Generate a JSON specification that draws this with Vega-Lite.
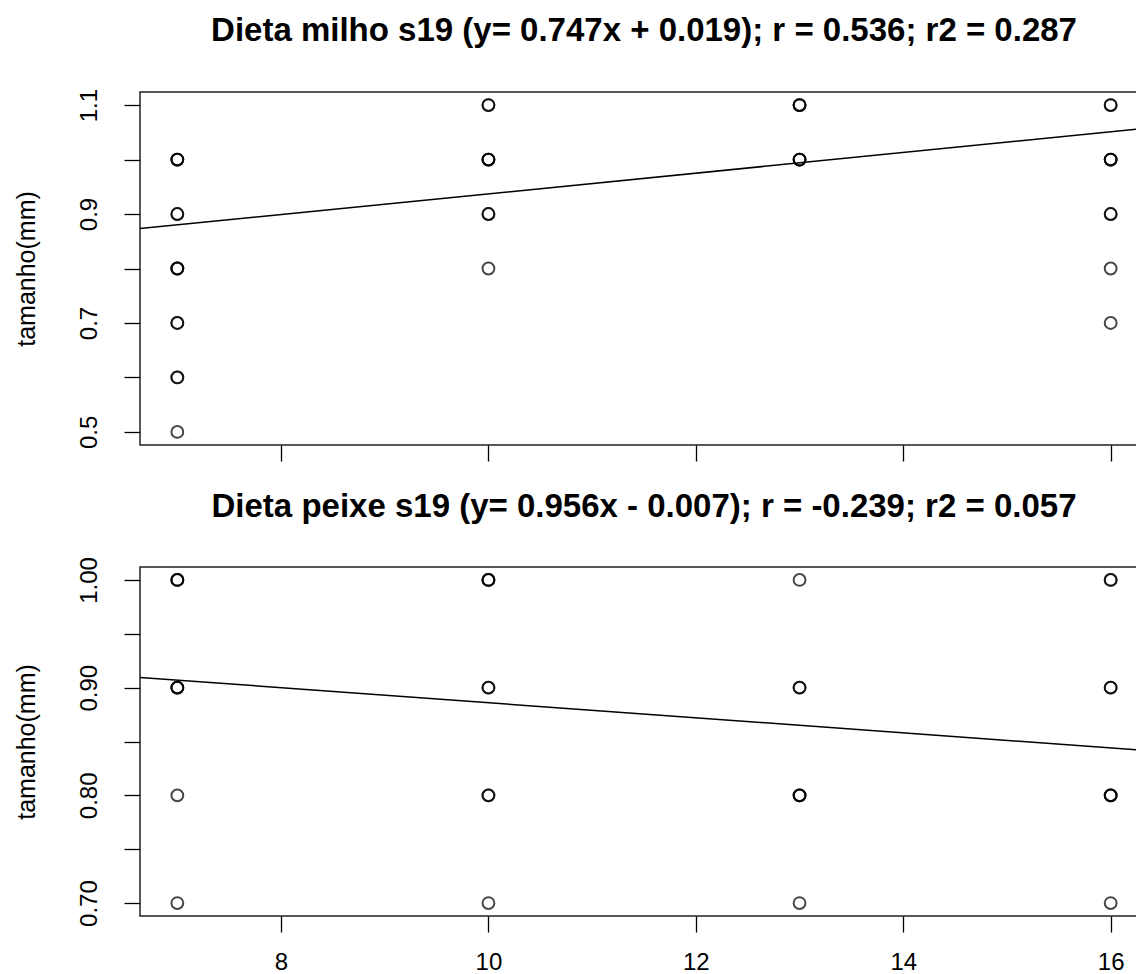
{
  "$schema": "https://vega.github.io/schema/vega-lite/v6.json",
  "background": "white",
  "padding": {"left": 13, "top": 14, "right": 0, "bottom": 0},
  "spacing": 26,
  "config": {
    "font": "Liberation Sans",
    "view": {"stroke": "#222", "strokeWidth": 1.5},
    "title": {"fontSize": 33, "fontWeight": "bold", "color": "#000", "frame": "group", "anchor": "middle", "offset": 40},
    "axis": {"grid": false, "domain": false, "tickColor": "#000", "tickWidth": 1.3, "tickSize": 16, "labelFontSize": 24, "labelColor": "#000", "titleFontSize": 25, "titleFontWeight": "normal", "titleColor": "#000", "labelOverlap": false, "labelFlush": false, "labelBound": false}
  },
  "datasets": {
    "milho": [
      {"x": 7, "y": 1.0}, {"x": 7, "y": 1.0}, {"x": 7, "y": 1.0},
      {"x": 7, "y": 0.9}, {"x": 7, "y": 0.9},
      {"x": 7, "y": 0.8}, {"x": 7, "y": 0.8}, {"x": 7, "y": 0.8},
      {"x": 7, "y": 0.7}, {"x": 7, "y": 0.7},
      {"x": 7, "y": 0.6}, {"x": 7, "y": 0.6},
      {"x": 7, "y": 0.5},
      {"x": 10, "y": 1.1}, {"x": 10, "y": 1.1},
      {"x": 10, "y": 1.0}, {"x": 10, "y": 1.0}, {"x": 10, "y": 1.0},
      {"x": 10, "y": 0.9}, {"x": 10, "y": 0.9},
      {"x": 10, "y": 0.8},
      {"x": 13, "y": 1.1}, {"x": 13, "y": 1.1}, {"x": 13, "y": 1.1},
      {"x": 13, "y": 1.0}, {"x": 13, "y": 1.0}, {"x": 13, "y": 1.0},
      {"x": 16, "y": 1.1}, {"x": 16, "y": 1.1},
      {"x": 16, "y": 1.0}, {"x": 16, "y": 1.0}, {"x": 16, "y": 1.0},
      {"x": 16, "y": 0.9}, {"x": 16, "y": 0.9},
      {"x": 16, "y": 0.8},
      {"x": 16, "y": 0.7}
    ],
    "peixe": [
      {"x": 7, "y": 1.0}, {"x": 7, "y": 1.0}, {"x": 7, "y": 1.0},
      {"x": 7, "y": 0.9}, {"x": 7, "y": 0.9}, {"x": 7, "y": 0.9},
      {"x": 7, "y": 0.8},
      {"x": 7, "y": 0.7},
      {"x": 10, "y": 1.0}, {"x": 10, "y": 1.0}, {"x": 10, "y": 1.0},
      {"x": 10, "y": 0.9}, {"x": 10, "y": 0.9},
      {"x": 10, "y": 0.8}, {"x": 10, "y": 0.8},
      {"x": 10, "y": 0.7},
      {"x": 13, "y": 1.0},
      {"x": 13, "y": 0.9}, {"x": 13, "y": 0.9},
      {"x": 13, "y": 0.8}, {"x": 13, "y": 0.8}, {"x": 13, "y": 0.8},
      {"x": 13, "y": 0.7},
      {"x": 16, "y": 1.0}, {"x": 16, "y": 1.0},
      {"x": 16, "y": 0.9}, {"x": 16, "y": 0.9},
      {"x": 16, "y": 0.8}, {"x": 16, "y": 0.8}, {"x": 16, "y": 0.8},
      {"x": 16, "y": 0.7}
    ],
    "linha_milho": [{"x": 6.64, "y": 0.8732}, {"x": 16.36, "y": 1.0578}],
    "linha_peixe": [{"x": 6.64, "y": 0.9095}, {"x": 16.36, "y": 0.8415}]
  },
  "vconcat": [
    {
      "title": "Dieta milho s19 (y= 0.747x + 0.019); r = 0.536; r2 = 0.287",
      "width": 1008,
      "height": 353,
      "layer": [
        {
          "data": {"name": "milho"},
          "mark": {"type": "point", "shape": "circle", "filled": false, "size": 140, "strokeWidth": 2, "color": "#000", "opacity": 0.72},
          "encoding": {
            "x": {"field": "x", "type": "quantitative", "scale": {"domain": [6.64, 16.36], "nice": false, "zero": false},
                  "axis": {"values": [8, 10, 12, 14, 16], "labels": false, "title": null}},
            "y": {"field": "y", "type": "quantitative", "scale": {"domain": [0.476, 1.124], "nice": false, "zero": false},
                  "axis": {"values": [0.5, 0.6, 0.7, 0.8, 0.9, 1.0, 1.1], "format": ".1f",
                           "labelExpr": "indexof(['0.5','0.7','0.9','1.1'], datum.label) >= 0 ? datum.label : ''",
                           "labelAngle": -90, "labelAlign": "center", "labelBaseline": "alphabetic", "labelPadding": 28,
                           "title": "tamanho(mm)", "titlePadding": 38}}
          }
        },
        {
          "data": {"name": "linha_milho"},
          "mark": {"type": "line", "color": "#000", "strokeWidth": 1.5, "clip": true},
          "encoding": {
            "x": {"field": "x", "type": "quantitative"},
            "y": {"field": "y", "type": "quantitative"}
          }
        }
      ]
    },
    {
      "title": {"text": "Dieta peixe s19 (y= 0.956x - 0.007); r = -0.239; r2 = 0.057", "offset": 33},
      "width": 1008,
      "height": 349,
      "layer": [
        {
          "data": {"name": "peixe"},
          "mark": {"type": "point", "shape": "circle", "filled": false, "size": 140, "strokeWidth": 2, "color": "#000", "opacity": 0.72},
          "encoding": {
            "x": {"field": "x", "type": "quantitative", "scale": {"domain": [6.64, 16.36], "nice": false, "zero": false},
                  "axis": {"values": [8, 10, 12, 14, 16], "format": "d", "labelPadding": 18, "title": null}},
            "y": {"field": "y", "type": "quantitative", "scale": {"domain": [0.688, 1.012], "nice": false, "zero": false},
                  "axis": {"values": [0.7, 0.75, 0.8, 0.85, 0.9, 0.95, 1.0], "format": ".2f",
                           "labelExpr": "indexof(['0.70','0.80','0.90','1.00'], datum.label) >= 0 ? datum.label : ''",
                           "labelAngle": -90, "labelAlign": "center", "labelBaseline": "alphabetic", "labelPadding": 28,
                           "title": "tamanho(mm)", "titlePadding": 38}}
          }
        },
        {
          "data": {"name": "linha_peixe"},
          "mark": {"type": "line", "color": "#000", "strokeWidth": 1.5, "clip": true},
          "encoding": {
            "x": {"field": "x", "type": "quantitative"},
            "y": {"field": "y", "type": "quantitative"}
          }
        }
      ]
    }
  ]
}
